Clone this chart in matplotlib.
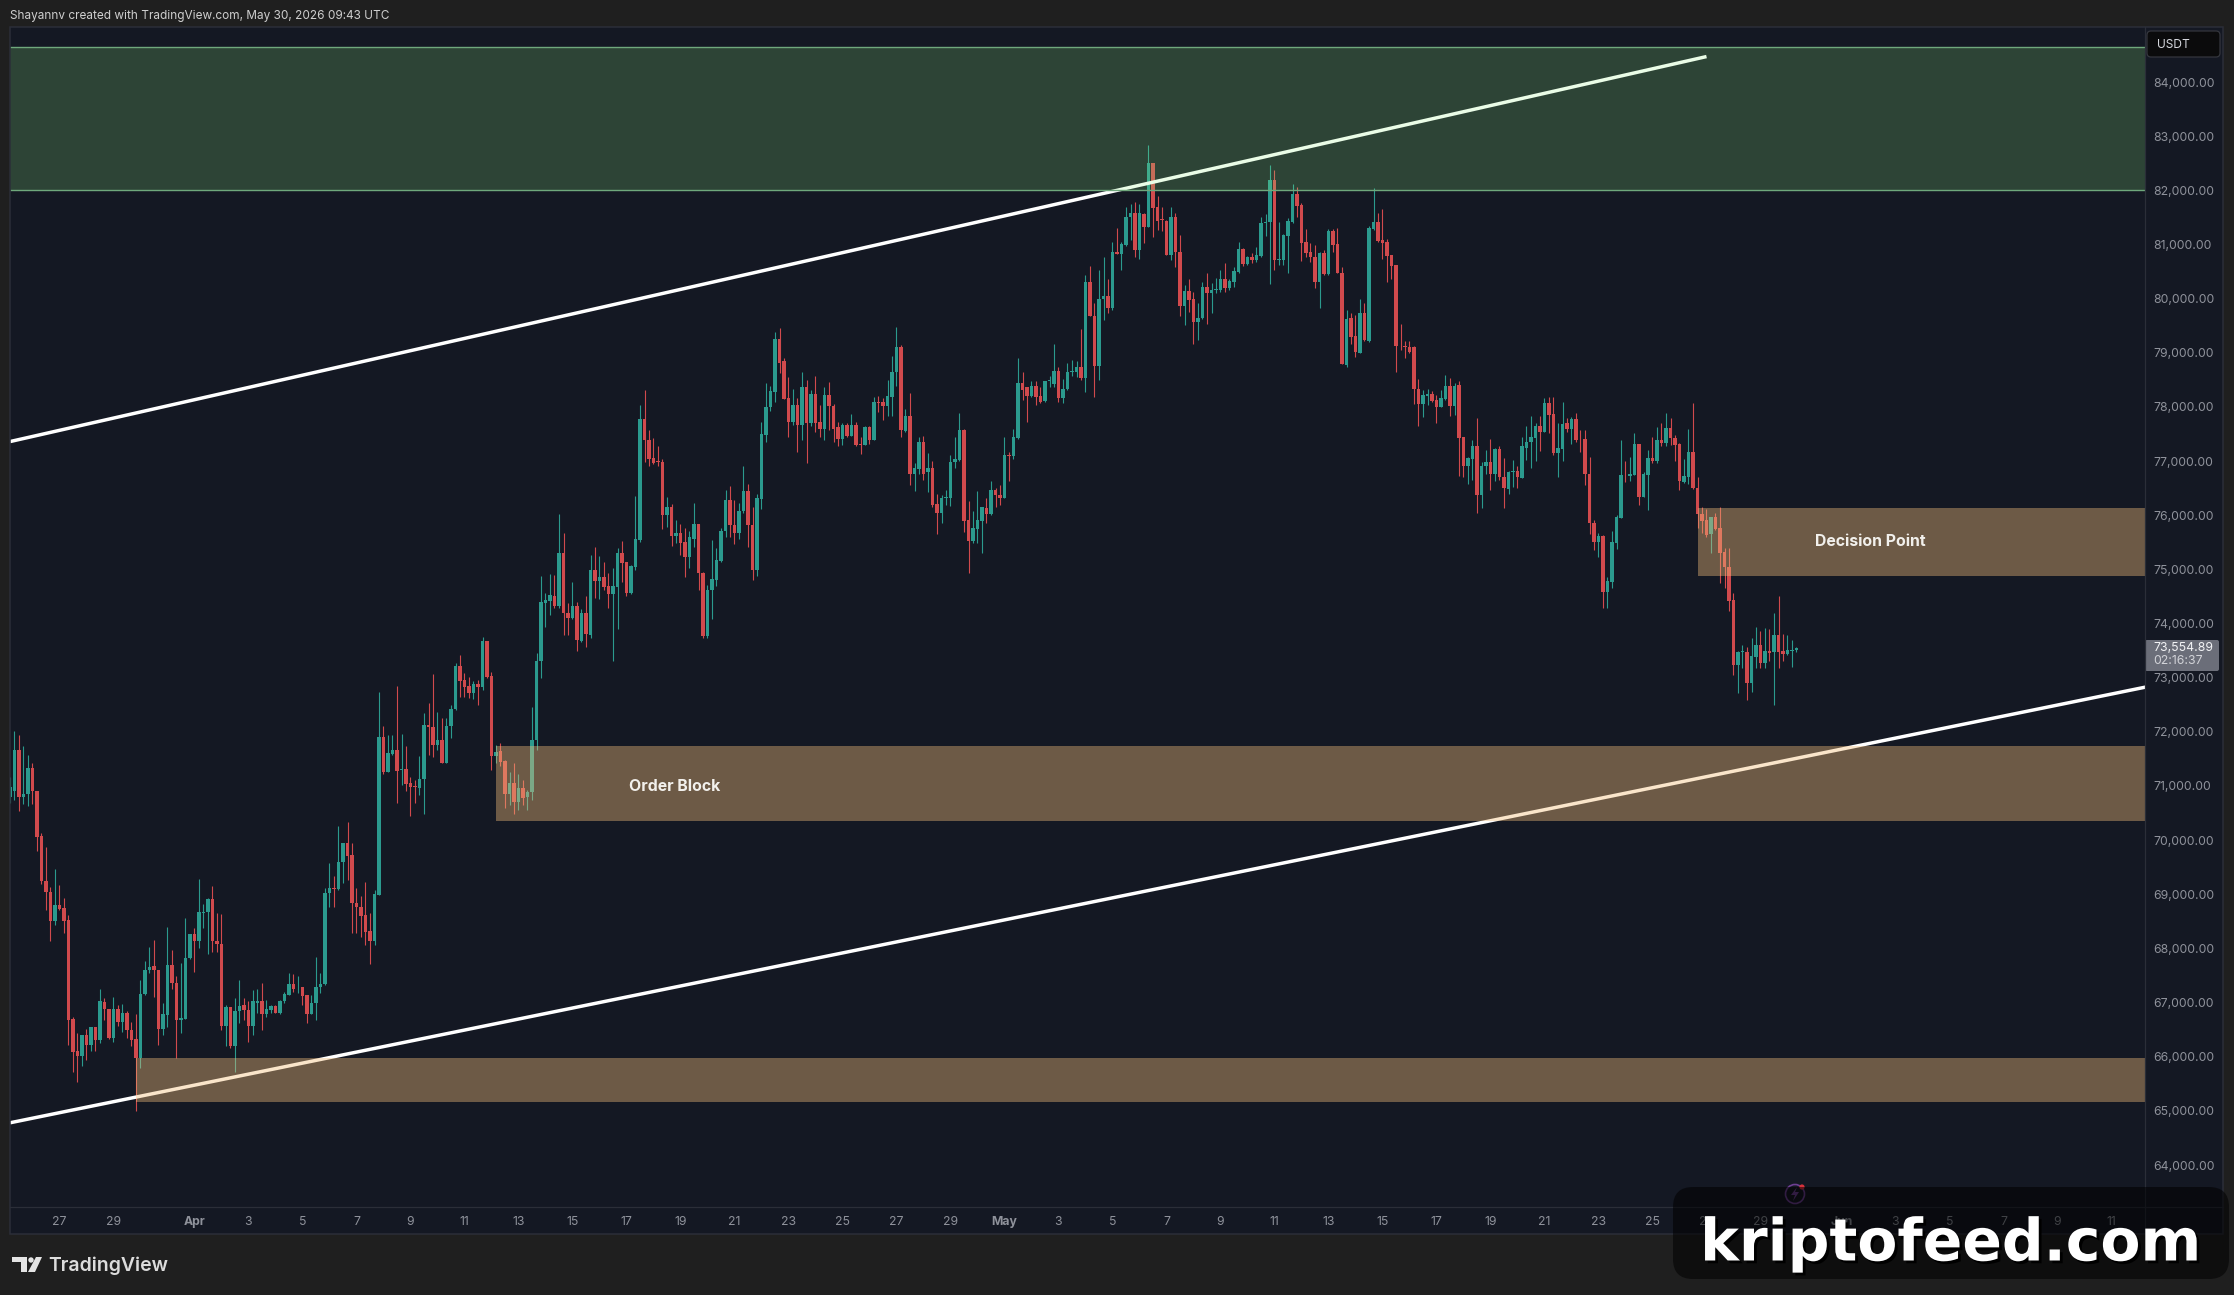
import matplotlib
matplotlib.use('Agg')
import matplotlib.dates as mdates
import matplotlib.patheffects as pe
import matplotlib.pyplot as plt
import pandas as pd
from matplotlib.patches import Circle, FancyBboxPatch, Polygon, Rectangle

plt.rcParams['font.family'] = ['Inter', 'DejaVu Sans']

# BTCUSDT 4h candles
opens = [
    70800, 70900, 71660, 70800, 70850, 71330, 70900, 70080, 69250, 69050,
    68510, 68800, 68740, 68520, 66690, 66100, 66010, 66400, 66220, 66540,
    66300, 67010, 66890, 66340, 66890, 66650, 66810, 66500, 66320, 65980,
    67150, 67600, 67670, 67610, 66510, 66770, 67690, 67360, 66670, 66700,
    67820, 68270, 68140, 68650, 68680, 68910, 68140, 68090, 66560, 66910,
    66190, 66840, 66960, 66860, 66560, 67000, 67020, 66780, 66860, 66940,
    66810, 67020, 67140, 67350, 67280, 67280, 67140, 66790, 66990, 67280,
    67340, 69020, 69110, 69090, 69590, 69940, 69730, 68830, 68760, 68620,
    68330, 68140, 68990, 71910, 71260, 71590, 71660, 71300, 71310, 71050,
    70990, 70960, 71120, 72130, 72080, 71760, 71850, 71430, 72100, 72430,
    73220, 72960, 72850, 72710, 72890, 72830, 73680, 73030, 71550, 71640,
    71460, 70860, 71060, 70710, 70960, 70790, 70890, 71840, 73300, 74380,
    74420, 74510, 74330, 75300, 74200, 74110, 74320, 73680, 74190, 73790,
    74990, 74790, 74860, 74690, 74540, 74680, 75310, 75130, 74570, 75050,
    75540, 77780, 77390, 77050, 77000, 76990, 76000, 76150, 75620, 75670,
    75510, 75230, 75570, 75840, 74940, 73770, 74610, 74800, 75160, 75700,
    76280, 75820, 75680, 76070, 76440, 75820, 74980, 76300, 77480, 77990,
    78280, 79260, 78840, 78160, 77730, 78040, 77670, 78360, 77710, 78240,
    77730, 77600, 78220, 78020, 77620, 77410, 77670, 77460, 77670, 77320,
    77300, 77620, 77380, 78090, 78090, 78020, 78190, 78650, 79100, 77560,
    77830, 76760, 76850, 77360, 76790, 76870, 76210, 76040, 76320, 76320,
    76980, 77020, 77570, 75910, 75530, 75750, 75900, 76140, 76020, 76470,
    76370, 76310, 77120, 77090, 77420, 78440, 78360, 78200, 78390, 78200,
    78110, 78470, 78430, 78670, 78160, 78330, 78640, 78650, 78740, 78530,
    80300, 79680, 78760, 80000, 80040, 79820, 80870, 80820, 80990, 81500,
    81590, 80890, 81560, 81330, 82510, 81690, 81460, 81440, 80800, 81500,
    80860, 79860, 80140, 79990, 79560, 79640, 80210, 80100, 80160, 80160,
    80360, 80190, 80310, 80500, 80910, 80640, 80760, 80710, 80790, 81390,
    81420, 82190, 80720, 80710, 81160, 81420, 81940, 81730, 81040, 80860,
    80770, 80310, 80840, 80450, 81240, 81000, 80480, 78770, 79640, 79310,
    79000, 79730, 79220, 81280, 81410, 81080, 81050, 80800, 80620, 79130,
    79120, 79110, 79110, 78340, 78050, 78210, 78240, 78130, 78000, 78150,
    78390, 78020, 78410, 77440, 76900, 77040, 77270, 76370, 76900, 76980,
    76760, 77220, 76710, 76480, 76790, 76810, 76690, 77250, 77360, 77430,
    77650, 77530, 78080, 77870, 77140, 77220, 77700, 77590, 77770, 77410,
    77400, 76770, 75860, 75510, 75620, 74590, 74770, 75490, 75950, 76750,
    76730, 76750, 77320, 76340, 76740, 77060, 77010, 77390, 77340, 77610,
    77420, 77320, 76620, 76710, 77160, 76500, 76030, 75910, 75650, 75960,
    75760, 75320, 75040, 74440, 73230, 73470, 73480, 72910, 73390, 73600,
    73270, 73500, 73480, 73790, 73500, 73440, 73500, 73520,
]
highs = [
    71170, 72020, 71940, 71740, 71570, 71420, 70900, 70130, 69870, 69140,
    69460, 69170, 68940, 68610, 66740, 66430, 66400, 66510, 66550, 66550,
    67260, 67080, 66890, 67110, 66950, 66970, 66850, 66650, 66790, 67420,
    67770, 68030, 68160, 67610, 66990, 68390, 67970, 67490, 67740, 68570,
    68270, 68370, 69290, 68820, 68940, 69150, 68650, 68640, 66950, 66920,
    67080, 67420, 67080, 67020, 67230, 67260, 67360, 67050, 66950, 66950,
    67050, 67200, 67540, 67530, 67490, 67280, 67140, 67140, 67850, 67540,
    69110, 69580, 69340, 70260, 69950, 70340, 69950, 69110, 68970, 69230,
    68650, 69080, 72740, 72100, 71940, 71940, 72850, 71960, 71740, 71170,
    71110, 71550, 72340, 72530, 73070, 72370, 72250, 72250, 72500, 73280,
    73420, 73080, 73020, 72930, 72960, 73760, 73680, 73110, 71760, 71790,
    71480, 71260, 71430, 71230, 71110, 70930, 72460, 73460, 74880, 74560,
    74910, 74890, 76020, 75680, 74370, 74770, 74400, 74260, 74500, 75260,
    75420, 75250, 75140, 74930, 75020, 75390, 75530, 75140, 75080, 76350,
    78030, 78310, 77570, 77420, 77270, 77030, 76340, 76210, 75910, 75840,
    75760, 75700, 76220, 75840, 74960, 74710, 75550, 75390, 75760, 76470,
    76540, 76280, 76220, 76910, 76580, 76160, 76400, 77730, 78440, 78390,
    79380, 79450, 78900, 78550, 78330, 78160, 78640, 78500, 78310, 78570,
    78040, 78360, 78460, 78050, 77730, 77710, 77700, 77870, 77730, 77450,
    77640, 77640, 78180, 78200, 78160, 78490, 78940, 79470, 79140, 77960,
    78250, 76970, 77450, 77460, 77140, 77010, 76400, 76370, 76470, 77110,
    77450, 77880, 77590, 76270, 76070, 76450, 76160, 76310, 76640, 76500,
    76560, 77450, 77170, 77590, 78900, 78650, 78370, 78480, 78470, 78370,
    78480, 78570, 79170, 78730, 78510, 78820, 78870, 78850, 79430, 80440,
    80600, 79910, 80530, 80760, 80370, 81050, 81300, 81050, 81690, 81750,
    81790, 81750, 81590, 82840, 82510, 81900, 81700, 81460, 81690, 81580,
    81180, 80250, 80360, 80120, 79910, 80310, 80480, 80280, 80390, 80530,
    80650, 80370, 80590, 81050, 80930, 80790, 80840, 80950, 81500, 81570,
    82470, 82380, 81420, 81190, 81480, 82120, 82060, 81760, 81280, 81020,
    80990, 80870, 80900, 81280, 81280, 81300, 80580, 79790, 79740, 79700,
    79990, 79910, 81340, 82040, 81580, 81650, 81110, 80800, 80620, 79540,
    79210, 79220, 79120, 78510, 78320, 78340, 78300, 78220, 78310, 78590,
    78530, 78450, 78470, 77450, 77080, 77390, 77790, 76990, 77200, 77410,
    77250, 77280, 77050, 76820, 77020, 76900, 77450, 77650, 77830, 77710,
    77830, 78160, 78180, 78190, 77700, 78100, 77790, 77810, 77880, 77570,
    77570, 77080, 75910, 75670, 75630, 74850, 75710, 76000, 77390, 77010,
    77070, 77520, 77320, 76790, 77200, 77450, 77620, 77710, 77880, 77790,
    77480, 77340, 77030, 77600, 78080, 76700, 76160, 76110, 75970, 76050,
    76150, 75390, 75390, 74570, 73500, 73600, 73570, 73730, 73930, 73870,
    73910, 73890, 74190, 74510, 73810, 73790, 73700, 73570,
]
lows = [
    70690, 70740, 70530, 70670, 70630, 70670, 69800, 69190, 68710, 68130,
    68430, 68710, 68290, 66220, 65720, 65540, 65820, 65940, 66110, 66110,
    66250, 66680, 66320, 66280, 66560, 66460, 66340, 66190, 64990, 65790,
    67140, 67540, 67110, 66220, 66400, 66550, 67260, 65980, 66430, 66690,
    67800, 67570, 68000, 68370, 67900, 67940, 67940, 66490, 66190, 66160,
    65710, 66620, 66680, 66280, 66400, 66800, 66490, 66740, 66800, 66800,
    66790, 66990, 67140, 67200, 67170, 66950, 66620, 66780, 66680, 67170,
    67320, 68770, 68770, 69080, 69200, 69260, 68290, 68280, 68220, 68060,
    67710, 68060, 68990, 71230, 71250, 71570, 70680, 71020, 70900, 70450,
    70680, 70830, 70490, 71570, 71540, 71660, 71420, 71420, 71880, 72400,
    72650, 72650, 72620, 72600, 72500, 72780, 72990, 71290, 71420, 71360,
    70590, 70650, 70490, 70560, 70650, 70560, 70750, 71660, 72990, 73940,
    74160, 74280, 74280, 73790, 73790, 74090, 73500, 73660, 73570, 73740,
    74480, 74460, 74620, 74280, 73300, 73890, 74770, 74510, 74540, 74990,
    75510, 76990, 76900, 76950, 76910, 75740, 75790, 75430, 75480, 75260,
    74860, 75020, 75420, 74620, 73740, 73730, 74080, 74690, 75140, 75600,
    75600, 75470, 75570, 76050, 75420, 74800, 74880, 76110, 77360, 77930,
    78100, 78620, 78140, 77440, 77670, 77170, 77380, 76960, 77640, 77540,
    77450, 77390, 77570, 77360, 77270, 77300, 77450, 77460, 77280, 77130,
    77300, 77320, 77380, 77910, 77760, 77830, 77830, 78390, 77440, 77540,
    76560, 76450, 76760, 76650, 76420, 76160, 75650, 75860, 76190, 76170,
    76880, 77010, 75690, 74930, 75490, 75480, 75310, 75850, 76000, 76160,
    76190, 76310, 76640, 77030, 77400, 78130, 77730, 78190, 78040, 78080,
    78100, 78370, 78370, 78100, 78080, 78310, 78570, 78560, 78500, 78280,
    79670, 78180, 78490, 79600, 79740, 79790, 80820, 80520, 80970, 81080,
    80770, 80730, 81030, 81320, 81130, 81270, 81240, 80800, 80710, 80580,
    79680, 79510, 79760, 79170, 79240, 79620, 79530, 79740, 80100, 80120,
    80130, 80160, 80220, 80480, 80600, 80620, 80660, 80680, 80770, 81160,
    80270, 80520, 80620, 80620, 80470, 81400, 81510, 80700, 80770, 80680,
    80190, 79820, 80440, 80440, 80870, 80470, 78790, 78740, 79170, 78920,
    78990, 79220, 79200, 81270, 81050, 80740, 80310, 80370, 78650, 79050,
    78900, 79000, 78050, 77640, 77820, 78040, 78100, 77710, 78000, 78130,
    77840, 77860, 76720, 76700, 76580, 76650, 76050, 76130, 76770, 76470,
    76640, 76650, 76130, 76390, 76530, 76500, 76690, 77020, 76880, 77010,
    77190, 77530, 77510, 77110, 76710, 77010, 77530, 77310, 77360, 77170,
    76560, 75650, 75350, 75220, 74280, 74290, 74650, 75370, 75950, 76620,
    76640, 76740, 76190, 76340, 76100, 76970, 76970, 77270, 77280, 77300,
    77010, 76470, 76590, 76580, 76480, 75760, 75670, 75600, 75300, 75730,
    74740, 74650, 74240, 73050, 72720, 73170, 72580, 72740, 73170, 73170,
    73170, 73300, 72500, 73170, 73300, 73420, 73190, 73480,
]
closes = [
    70990, 71660, 70800, 70860, 71330, 70900, 70060, 69250, 69050, 68510,
    68800, 68730, 68510, 66680, 66090, 66010, 66400, 66220, 66550, 66300,
    67020, 66880, 66340, 66890, 66650, 66800, 66490, 66310, 65980, 67150,
    67610, 67660, 67600, 66510, 66780, 67690, 67360, 66670, 66710, 67820,
    68270, 68140, 68670, 68680, 68920, 68140, 68080, 66560, 66920, 66190,
    66840, 66940, 66860, 66560, 67020, 67030, 66790, 66880, 66940, 66810,
    67020, 67150, 67350, 67260, 67290, 67120, 66790, 66990, 67280, 67340,
    69020, 69110, 69100, 69590, 69940, 69710, 68830, 68760, 68600, 68310,
    68140, 69010, 71910, 71260, 71600, 71660, 71280, 71310, 71040, 70980,
    70980, 71120, 72130, 72080, 71760, 71840, 71430, 72100, 72430, 73220,
    72940, 72830, 72710, 72890, 72830, 73680, 73020, 71550, 71630, 71450,
    70860, 71060, 70710, 70960, 70770, 70890, 71840, 73300, 74400, 74430,
    74530, 74330, 75300, 74190, 74110, 74320, 73700, 74200, 73810, 74990,
    74790, 74860, 74670, 74540, 74690, 75310, 75120, 74570, 75060, 75570,
    77780, 77380, 77030, 76970, 76980, 76000, 76150, 75620, 75670, 75490,
    75230, 75600, 75840, 74940, 73770, 74620, 74820, 75170, 75710, 76280,
    75820, 75680, 76070, 76440, 75820, 74990, 76310, 77500, 77990, 78300,
    79260, 78820, 78150, 77730, 78040, 77670, 78360, 77710, 78240, 77710,
    77600, 78220, 78010, 77590, 77410, 77670, 77460, 77670, 77300, 77300,
    77620, 77380, 78090, 78080, 78020, 78200, 78650, 79100, 77580, 77830,
    76760, 76870, 77360, 76770, 76870, 76190, 76040, 76320, 76340, 76980,
    77030, 77570, 75900, 75530, 75760, 75910, 76160, 76020, 76470, 76370,
    76310, 77110, 77100, 77440, 78440, 78320, 78200, 78390, 78190, 78100,
    78480, 78490, 78670, 78160, 78340, 78640, 78660, 78740, 78530, 80300,
    79680, 78760, 80000, 80040, 79820, 80870, 80820, 81010, 81500, 81590,
    80890, 81580, 81330, 82510, 81680, 81440, 81450, 80800, 81500, 80870,
    79860, 80140, 79980, 79560, 79650, 80210, 80110, 80160, 80170, 80360,
    80190, 80330, 80510, 80910, 80640, 80760, 80710, 80800, 81390, 81420,
    82190, 80710, 80730, 81170, 81440, 81940, 81710, 81030, 80850, 80760,
    80310, 80840, 80450, 81240, 80990, 80480, 78800, 79620, 79300, 79020,
    79730, 79240, 81300, 81410, 81070, 81020, 80790, 80600, 79130, 79120,
    79110, 79020, 78340, 78050, 78220, 78230, 78110, 78000, 78160, 78390,
    78020, 78390, 77430, 76900, 77050, 77270, 76370, 76910, 76980, 76760,
    77220, 76700, 76500, 76800, 76810, 76700, 77280, 77360, 77440, 77650,
    77530, 78080, 77850, 77140, 77250, 77690, 77590, 77770, 77380, 77400,
    76760, 75850, 75510, 75620, 74590, 74790, 75500, 75960, 76740, 76740,
    76770, 77320, 76340, 76760, 77050, 77010, 77390, 77340, 77610, 77420,
    77300, 76640, 76720, 77160, 76500, 76020, 75900, 75640, 75960, 75740,
    75310, 75040, 74420, 73230, 73480, 73490, 72910, 73400, 73600, 73270,
    73500, 73450, 73790, 73480, 73440, 73510, 73520, 73554.89,
]

first_candle = '2026-03-25 04:00'
price_ticks = list(range(64000, 85000, 1000))
date_ticks = ['2026-03-27', '2026-03-29', '2026-04-01', '2026-04-03', '2026-04-05', '2026-04-07',
              '2026-04-09', '2026-04-11', '2026-04-13', '2026-04-15', '2026-04-17', '2026-04-19',
              '2026-04-21', '2026-04-23', '2026-04-25', '2026-04-27', '2026-04-29', '2026-05-01',
              '2026-05-03', '2026-05-05', '2026-05-07', '2026-05-09', '2026-05-11', '2026-05-13',
              '2026-05-15', '2026-05-17', '2026-05-19', '2026-05-21', '2026-05-23', '2026-05-25',
              '2026-05-27', '2026-05-29', '2026-06-01', '2026-06-03', '2026-06-05', '2026-06-07',
              '2026-06-09', '2026-06-11']
date_labels = ['27', '29', 'Apr', '3', '5', '7', '9', '11', '13', '15', '17', '19', '21', '23', '25',
               '27', '29', 'May', '3', '5', '7', '9', '11', '13', '15', '17', '19', '21', '23', '25',
               '27', '29', 'Jun', '3', '5', '7', '9', '11']

# support / resistance boxes: start, bottom, top
supply_box = ('2026-03-25 04:00', 82000, 84650)
order_block = ('2026-04-12 04:00', 70360, 71740)
decision_box = ('2026-05-26 16:00', 74880, 76130)
low_box = ('2026-03-29 20:00', 65160, 65980)

# channel lines: dates and prices
upper_dates = ['2026-03-25 04:00', '2026-05-27 00:00']
upper_prices = [77360, 84470]
lower_dates = ['2026-03-25 04:00', '2026-06-12 06:00']
lower_prices = [64780, 72825]

last_price = closes[-1]
countdown = '02:16:37'

BG = '#1f1f1f'
PANEL = '#141823'
GRID = '#2b2e38'
TEAL = '#2b9a8e'
RED = '#d14a4d'
TAN = (244 / 255, 191 / 255, 124 / 255, 0.4)
GREEN = (150 / 255, 245 / 255, 135 / 255, 0.2)
LABEL = '#8f929b'

W, H = 2234, 1295
fig = plt.figure(figsize=(W / 100, H / 100), dpi=100, facecolor=BG)

back = fig.add_axes([10 / W, 1 - 1234 / H, 2213 / W, 1207 / H], facecolor=PANEL, zorder=0)
back.set_xticks([])
back.set_yticks([])
for side in back.spines.values():
    side.set_visible(False)

ax = fig.add_axes([10 / W, 1 - 1207 / H, 2135 / W, 1180 / H], facecolor=PANEL, zorder=1)
page = fig.add_axes([0, 0, 1, 1], zorder=2)
page.set_xlim(0, W)
page.set_ylim(H, 0)
page.axis('off')

times = pd.date_range(first_candle, periods=len(closes), freq='4h')
x = mdates.date2num(times)
candle_width = 0.67 * 4 / 24

colors = [TEAL if c >= o else RED for o, c in zip(opens, closes)]
ax.vlines(x, lows, highs, colors=colors, linewidth=0.8, zorder=2)
ax.bar(x, [max(abs(c - o), 12) for o, c in zip(opens, closes)],
       bottom=[min(o, c) for o, c in zip(opens, closes)],
       width=candle_width, color=colors, linewidth=0, zorder=2)

ax.plot(mdates.date2num(pd.to_datetime(upper_dates)), upper_prices, color='white', lw=2.5, zorder=3,
        solid_capstyle='butt')
ax.plot(mdates.date2num(pd.to_datetime(lower_dates)), lower_prices, color='white', lw=2.5, zorder=3,
        solid_capstyle='butt')

x_left = x[0]
x_right = x_left + 2135 / 27
ax.set_xlim(x_left, x_right)
ax.set_ylim(63225, 85016)


def draw_box(box, color):
    start = mdates.date2num(pd.Timestamp(box[0]))
    ax.add_patch(Rectangle((start, box[1]), x_right - start, box[2] - box[1], facecolor=color,
                           edgecolor='none', zorder=4))


draw_box(supply_box, GREEN)
draw_box(order_block, TAN)
draw_box(decision_box, TAN)
draw_box(low_box, TAN)
ax.hlines(supply_box[1:], x_left, x_right, colors='#6fa87c', linewidth=1.0, zorder=4)

ax.text(mdates.date2num(pd.Timestamp('2026-04-18 19:00')), 70990, 'Order Block', color='#f2f0ec',
        fontsize=11.4, fontweight='bold', ha='center', va='center', zorder=5)
ax.text(mdates.date2num(pd.Timestamp('2026-06-02 02:00')), 75510, 'Decision Point', color='#f2f0ec',
        fontsize=11.4, fontweight='bold', ha='center', va='center', zorder=5)

for side in ax.spines.values():
    side.set_visible(False)
ax.yaxis.tick_right()
ax.set_yticks(price_ticks)
ax.set_yticklabels(['{:,.2f}'.format(p) for p in price_ticks])
ax.set_xticks(mdates.date2num(pd.to_datetime(date_ticks)))
ax.set_xticklabels(date_labels)
ax.tick_params(axis='y', length=0, pad=5.8, labelsize=8.8, labelcolor=LABEL)
ax.tick_params(axis='x', length=0, pad=6.8, labelsize=8.8, labelcolor=LABEL)
for label in ax.get_xticklabels():
    if label.get_text() in ('Apr', 'May', 'Jun'):
        label.set_fontweight('bold')

# price scale and time scale frame
page.add_patch(Rectangle((10, 27), 2213, 1207, facecolor='none', edgecolor=GRID, lw=1.1))
page.plot([2145, 2145], [27, 1234], color=GRID, lw=0.9)
page.plot([10, 2223], [1207, 1207], color=GRID, lw=0.9)

page.add_patch(FancyBboxPatch((2150, 34), 67, 20, boxstyle='round,pad=3,rounding_size=4',
                              facecolor='#0b0b0c', edgecolor='#34363d', lw=0.9))
page.text(2157, 44.5, 'USDT', color='#d7d9df', fontsize=8.6, va='center', ha='left')

page.add_patch(FancyBboxPatch((2146, 641), 72, 29, boxstyle='round,pad=1,rounding_size=2',
                              facecolor='#6b6e79', edgecolor='none'))
page.text(2153, 648, '{:,.2f}'.format(last_price), color='#f2f3f5', fontsize=8.8, va='center', ha='left')
page.text(2153, 661, countdown, color='#d2d3d8', fontsize=8.8, va='center', ha='left')

page.text(10, 16, 'Shayannv created with TradingView.com, May 30, 2026 09:43 UTC', color='#cfcfcf',
          fontsize=8.5, va='center', ha='left')

# TradingView logo
page.add_patch(Polygon([(12, 1257), (27, 1257), (27, 1272), (21, 1272), (21, 1262), (12, 1262)],
                       facecolor='#e4e4e4', edgecolor='none'))
page.add_patch(Circle((31, 1260), 2.7, facecolor='#e4e4e4', edgecolor='none'))
page.add_patch(Polygon([(36, 1257), (42, 1257), (35, 1272), (28, 1272)], facecolor='#e4e4e4', edgecolor='none'))
page.text(48, 1265.5, 'TradingView', color='#dcdcdc', fontsize=14, fontweight='semibold', va='center', ha='left')

# alert icon on the time scale
page.add_patch(Circle((1795, 1194), 9.5, facecolor='none', edgecolor='#6d3f92', lw=1.2))
page.add_patch(Polygon([(1797, 1187), (1791, 1195), (1795, 1195), (1793, 1201), (1799, 1192), (1795, 1192)],
                       facecolor='#6d3f92', edgecolor='none'))
page.add_patch(Circle((1802, 1187), 2.6, facecolor='#d8323c', edgecolor='none'))

# site stamp
page.add_patch(FancyBboxPatch((1693, 1207), 516, 52, boxstyle='round,pad=20,rounding_size=20',
                              facecolor='black', alpha=0.55, edgecolor='none', zorder=20))
page.text(1951, 1244, 'kriptofeed.com', color='white', fontsize=42, fontweight='bold', family='DejaVu Sans',
          ha='center', va='center', zorder=21,
          path_effects=[pe.withSimplePatchShadow(offset=(2, -2), shadow_rgbFace='black', alpha=1.0)])

fig.savefig('out.png', dpi=100, facecolor=BG)
